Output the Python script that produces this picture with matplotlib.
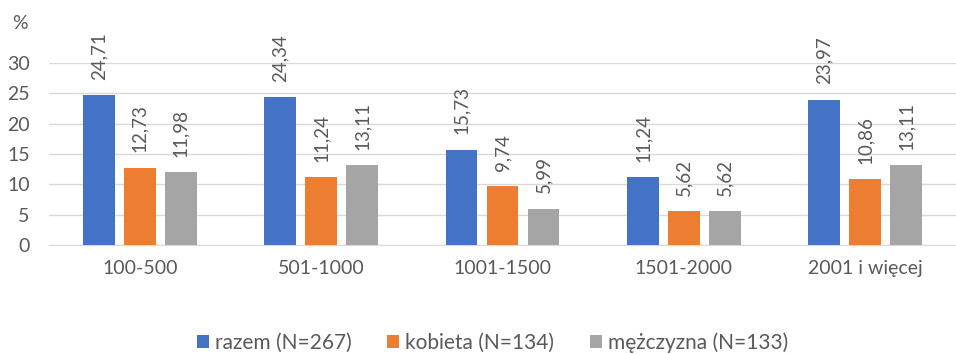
import numpy as np
import matplotlib.pyplot as plt

categories = ['100-500', '501-1000', '1001-1500', '1501-2000', '2001 i więcej']
razem = [24.71, 24.34, 15.73, 11.24, 23.97]
kobieta = [12.73, 11.24, 9.74, 5.62, 10.86]
mezczyzna = [11.98, 13.11, 5.99, 5.62, 13.11]
series_names = ['razem (N=267)', 'kobieta (N=134)', 'mężczyzna (N=133)']
colors = ['#4472C4', '#ED7D31', '#A5A5A5']
text_color = '#595959'

plt.rcParams['font.family'] = ['Lato', 'DejaVu Sans']

fig = plt.figure(figsize=(9.56, 3.54), dpi=100)
ax = fig.add_axes([0.0513, 0.308, 0.9487, 0.514])

x = np.arange(len(categories))
width = 0.176
step = 0.226
for i, (vals, name, col) in enumerate(zip([razem, kobieta, mezczyzna], series_names, colors)):
    pos = x + (i - 1) * step
    ax.bar(pos, vals, width, color=col, label=name, zorder=3)
    for p, v in zip(pos, vals):
        ax.annotate(f'{v:.2f}'.replace('.', ','), (p, v), xytext=(0, 11),
                    textcoords='offset points', rotation=90, ha='center', va='bottom',
                    fontsize=13.5, color=text_color)

ax.set_xlim(-0.5, len(categories) - 0.5)
ax.set_ylim(0, 30)
ax.set_yticks(range(0, 31, 5))
ax.set_xticks(x)
ax.set_xticklabels(categories)
ax.yaxis.grid(True, color='#D9D9D9', linewidth=1, zorder=0)
for s in ['top', 'right', 'left']:
    ax.spines[s].set_visible(False)
ax.spines['bottom'].set_color('#D9D9D9')
ax.tick_params(axis='both', length=0, labelsize=14, colors=text_color)
ax.tick_params(axis='x', pad=11)
ax.tick_params(axis='y', pad=14)

fig.text(0.0293, 0.935, '%', fontsize=14, color=text_color, ha='right', va='center')

fig.legend(loc='center', bbox_to_anchor=(0.515, 0.033), ncol=3, frameon=False,
           fontsize=15, labelcolor=text_color, handlelength=0.58, handleheight=0.58,
           handletextpad=0.29, columnspacing=1.7)

fig.savefig('out.png', dpi=100)
